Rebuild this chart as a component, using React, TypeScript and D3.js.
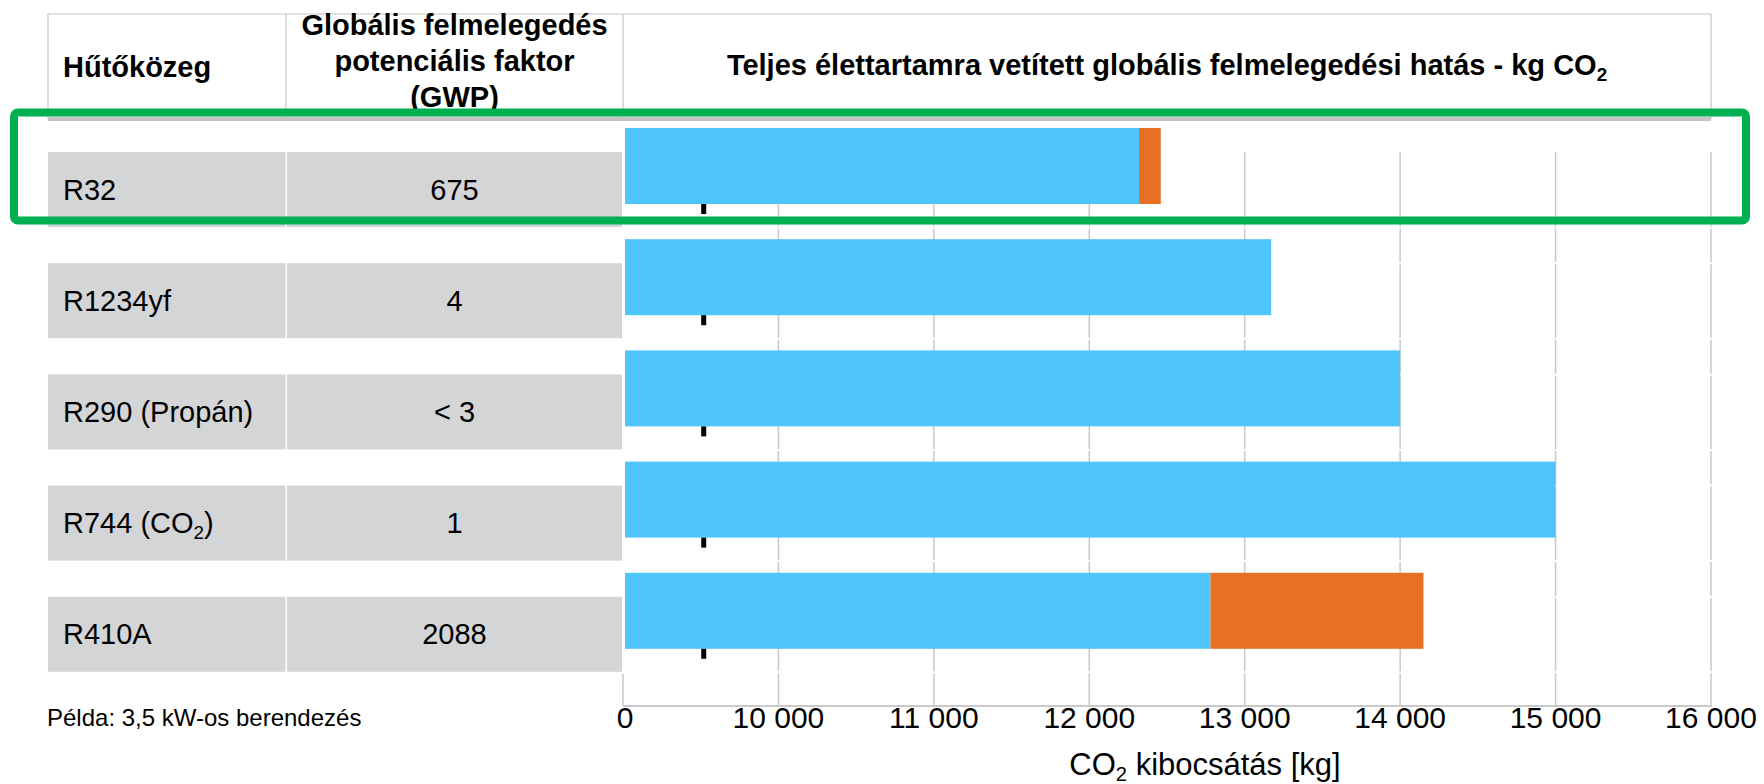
import React from "react";
import * as d3 from "d3";

const refrigerants = ["R32", "R1234yf", "R290 (Propán)", "R744 (CO2)", "R410A"];
const gwpLabels = ["675", "4", "< 3", "1", "2088"];
const indirectKg = [12320, 13170, 14000, 15000, 12780];
const directKg = [140, 0, 0, 0, 1370];
const tickValues = [0, 10000, 11000, 12000, 13000, 14000, 15000, 16000];
const headerCol1 = "Hűtőközeg";
const headerCol2 = ["Globális felmelegedés", "potenciális faktor", "(GWP)"];
const chartTitle = "Teljes élettartamra vetített globális felmelegedési hatás - kg CO2";
const axisTitle = "CO2 kibocsátás [kg]";
const footnote = "Példa: 3,5 kW-os berendezés";

const W = 1764;
const H = 784;
const FONT = "'Liberation Sans', Arial, Helvetica, sans-serif";
const BLUE = "#4EC6FD";
const ORANGE = "#E87022";
const CELL = "#D4D5D7";
const GRID = "#C9C9C9";
const GREEN = "#00B050";

const breakStart = 9000;
const x = d3.scaleLinear().domain([breakStart, 16000]).range([623, 1711]);
const pos = (v: number) => (v < 10000 ? x(breakStart) : x(v));
const y = d3.scaleLinear().domain([0, refrigerants.length - 1]).range([128, 128 + 4 * 111.2]);
const barH = 76;
const cellOff = 24;
const cellH = 75;
const col1 = [48, 285.5];
const col2 = [287, 622];
const axisY = 706;
const gridTop = 152;

const fmt = d3.formatLocale({ thousands: " ", grouping: [3], decimal: ",", currency: ["", ""] }).format(",");

function Chem({ text }: { text: string }) {
  const idx = text.indexOf("CO2");
  if (idx < 0) return <>{text}</>;
  const before = text.slice(0, idx + 2);
  const after = text.slice(idx + 3);
  return (
    <>
      {before}
      <tspan dy="0.3em" fontSize="0.65em">2</tspan>
      {after ? <tspan dy="-0.195em">{after}</tspan> : null}
    </>
  );
}

export default function App() {
  const rows = refrigerants.map((name, i) => ({
    name,
    gwp: gwpLabels[i],
    ind: indirectKg[i],
    dir: directKg[i],
    top: y(i),
  }));
  const whiteLines: number[] = [];
  rows.forEach((r, i) => {
    if (i > 0) whiteLines.push(r.top + cellOff);
    whiteLines.push(r.top + cellOff + cellH + 0.5);
  });

  return (
    <svg
      width={W}
      height={H}
      style={{ position: "absolute", left: 0, top: 0, background: "#fff" }}
      fontFamily={FONT}
    >
      {/* header borders */}
      <line x1={col1[0]} x2={1711} y1={14} y2={14} stroke="#D9D9D9" strokeWidth={1.5} />
      {[col1[0], 286, 623, 1711].map((vx) => (
        <line key={vx} x1={vx} x2={vx} y1={14} y2={119} stroke="#D0D0D0" strokeWidth={1.5} />
      ))}
      <line x1={col1[0]} x2={1711} y1={119} y2={119} stroke="#C4C4C4" strokeWidth={4} />

      {/* header texts */}
      <text x={63} y={77} fontSize={29} fontWeight="bold" fill="#000">{headerCol1}</text>
      {headerCol2.map((t, i) => (
        <text key={t} x={(col2[0] + col2[1]) / 2} y={35 + i * 36} fontSize={29} fontWeight="bold" textAnchor="middle" fill="#000">
          {t}
        </text>
      ))}
      <text x={(623 + 1711) / 2} y={75} fontSize={29} fontWeight="bold" textAnchor="middle" fill="#000">
        <Chem text={chartTitle} />
      </text>

      {/* gridlines */}
      {tickValues.filter((t) => t >= 10000).map((t) => (
        <line key={t} x1={x(t)} x2={x(t)} y1={gridTop} y2={axisY} stroke={GRID} strokeWidth={1.5} />
      ))}
      {whiteLines.map((wy, i) => (
        <line key={i} x1={623} x2={1713} y1={wy} y2={wy} stroke="#fff" strokeWidth={2} />
      ))}
      <line x1={623} x2={623} y1={674} y2={axisY} stroke={GRID} strokeWidth={1.5} />
      <line x1={623} x2={1712} y1={axisY} y2={axisY} stroke={GRID} strokeWidth={2} />

      {/* table cells */}
      {rows.map((r) => (
        <g key={r.name}>
          <rect x={col1[0]} y={r.top + cellOff} width={col1[1] - col1[0]} height={cellH} fill={CELL} />
          <rect x={col2[0]} y={r.top + cellOff} width={col2[1] - col2[0]} height={cellH} fill={CELL} />
          <text x={63} y={r.top + cellOff + cellH / 2 + 10} fontSize={29} fill="#000">
            <Chem text={r.name} />
          </text>
          <text x={(col2[0] + col2[1]) / 2} y={r.top + cellOff + cellH / 2 + 10} fontSize={29} textAnchor="middle" fill="#000">
            {r.gwp}
          </text>
        </g>
      ))}

      {/* bars */}
      {rows.map((r) => (
        <g key={r.name + "bar"}>
          <rect x={pos(0) + 2} y={r.top} width={pos(r.ind) - pos(0) - 2} height={barH} fill={BLUE} />
          {r.dir > 0 ? (
            <rect x={pos(r.ind)} y={r.top} width={pos(r.ind + r.dir) - pos(r.ind)} height={barH} fill={ORANGE} />
          ) : null}
          <rect x={(pos(0) + x(10000)) / 2 + 0.5} y={r.top + barH} width={5} height={10} fill="#000" />
        </g>
      ))}

      {/* axis labels */}
      {tickValues.map((t) => (
        <text key={t} x={pos(t) + (t === 0 ? 2 : 0)} y={728} fontSize={30} textAnchor="middle" fill="#000">
          {fmt(t)}
        </text>
      ))}
      <text x={1205} y={775} fontSize={31} textAnchor="middle" fill="#000">
        <Chem text={axisTitle} />
      </text>
      <text x={47} y={726} fontSize={24} fill="#000">{footnote}</text>

      {/* highlight */}
      <rect x={14} y={112.5} width={1732} height={108} rx={4} ry={4} fill="none" stroke={GREEN} strokeWidth={8} />
    </svg>
  );
}
